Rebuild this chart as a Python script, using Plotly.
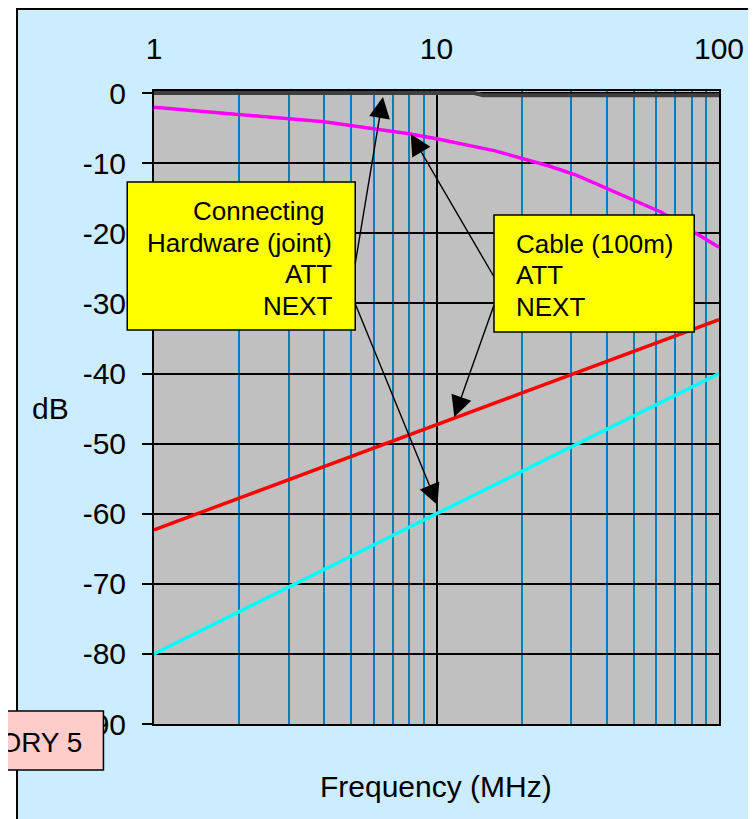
import plotly.graph_objects as go

# ---- data ----
freq = [1, 4, 8, 10, 16, 20, 25, 31.25, 62.5, 100]
cable_att = [-2.0, -4.1, -5.8, -6.5, -8.2, -9.3, -10.4, -11.7, -17.0, -22.0]
cable_next = [-62.3, -53.3, -48.8, -47.3, -44.3, -42.8, -41.3, -39.9, -35.4, -32.3]
hw_next = [-80.0, -68.0, -62.0, -60.0, -55.9, -54.0, -52.0, -50.1, -44.1, -40.0]
hw_att_freq = [1, 10, 13.6, 14.6, 100]
hw_att = [0.0, 0.0, 0.0, -0.3, -0.3]

x_tickvals = [1, 10, 100]
x_ticktext = ["1", "10", "100"]
x_minor = [2, 3, 4, 5, 6, 7, 8, 9, 20, 30, 40, 50, 60, 70, 80, 90]
y_tickvals = [0, -10, -20, -30, -40, -50, -60, -70, -80, -90]
y_ticktext = ["0", "-10", "-20", "-30", "-40", "-50", "-60", "-70", "-80", "-90"]

OFF = 8                      # page body margin
W, H = 748, 811
L, R, T, B = 146, 32, 83, 95
PW, PH = W - L - R, H - T - B
FONT = "Liberation Sans, Arial, sans-serif"


def px(xp):
    return (xp - OFF - L) / PW


def py(yp):
    return (H - B - (yp - OFF)) / PH


fig = go.Figure()
fig.add_trace(go.Scatter(x=freq, y=cable_att, mode="lines",
                         line=dict(color="#FF00FF", width=3.5), name="Cable ATT"))
fig.add_trace(go.Scatter(x=freq, y=cable_next, mode="lines",
                         line=dict(color="#FF0000", width=3.5), name="Cable NEXT"))
fig.add_trace(go.Scatter(x=freq, y=hw_next, mode="lines",
                         line=dict(color="#00FFFF", width=3.5), name="Hardware NEXT"))
fig.add_trace(go.Scatter(x=hw_att_freq, y=hw_att, mode="lines",
                         line=dict(color="#404040", width=4), name="Hardware ATT"))

shapes = []
# white margin on the left, frame lines
shapes.append(dict(type="rect", xref="paper", yref="paper", layer="below",
                   x0=px(-20), x1=px(15), y0=py(900), y1=py(-20),
                   fillcolor="white", line=dict(width=0)))
shapes.append(dict(type="line", xref="paper", yref="paper", layer="below",
                   x0=px(15.8), x1=px(15.8), y0=py(8), y1=py(900),
                   line=dict(color="black", width=2)))
shapes.append(dict(type="line", xref="paper", yref="paper", layer="below",
                   x0=px(15), x1=px(900), y0=py(9), y1=py(9),
                   line=dict(color="black", width=2)))
# yellow text boxes
shapes.append(dict(type="rect", xref="paper", yref="paper", layer="above",
                   x0=px(127), x1=px(357), y0=py(330), y1=py(182),
                   fillcolor="#FFFF00", line=dict(color="black", width=1.5)))
shapes.append(dict(type="rect", xref="paper", yref="paper", layer="above",
                   x0=px(497), x1=px(699), y0=py(332), y1=py(215),
                   fillcolor="#FFFF00", line=dict(color="black", width=1.5)))
# pink box
shapes.append(dict(type="rect", xref="paper", yref="paper", layer="above",
                   x0=px(-20), x1=px(103), y0=py(770), y1=py(711),
                   fillcolor="#FFCCCC", line=dict(color="black", width=1.5)))

ann = []


def text(t, x, y, size, xanchor="center"):
    ann.append(dict(text=t, xref="paper", yref="paper", x=px(x), y=py(y),
                    xanchor=xanchor, yanchor="middle", showarrow=False,
                    font=dict(family=FONT, size=size, color="black")))


text("Connecting", 329, 211, 26, "right")
text("Hardware (joint)", 336, 243, 26, "right")
text("ATT", 336, 274, 26, "right")
text("NEXT", 336, 306, 26, "right")
text("Cable (100m)", 517, 244, 26, "left")
text("ATT", 517, 275, 26, "left")
text("NEXT", 517, 307, 26, "left")
text("dB", 50, 408, 30)
text("Frequency (MHz)", 438, 786, 30)
text("CATEGORY 5", 83, 742, 28, "right")


def arrow(tip, tail):
    ann.append(dict(text="", xref="paper", yref="paper", x=px(tip[0]), y=py(tip[1]),
                    ax=tail[0] - tip[0], ay=tail[1] - tip[1], axref="pixel", ayref="pixel",
                    showarrow=True, arrowhead=2, arrowsize=3, arrowwidth=1.4,
                    arrowcolor="black", standoff=0, startstandoff=0))


arrow((385, 97), (357, 265))
arrow((440, 505), (357, 302))
arrow((413, 134), (497, 278))
arrow((457, 417), (497, 304))

fig.update_layout(
    width=W, height=H,
    margin=dict(l=L, r=R, t=T, b=B, pad=0),
    paper_bgcolor="#CCECFF",
    plot_bgcolor="#C0C0C0",
    showlegend=False,
    font=dict(family=FONT, size=30, color="black"),
    shapes=shapes,
    annotations=ann,
    xaxis=dict(type="log", range=[0, 2], side="top",
               tickvals=x_tickvals, ticktext=x_ticktext, ticks="",
               ticklabelstandoff=18,
               showgrid=True, gridcolor="black", gridwidth=1.5,
               minor=dict(tickmode="array", tickvals=x_minor, showgrid=True,
                          gridcolor="#0080C0", gridwidth=1.5, ticks=""),
               showline=True, mirror=True, linecolor="black", linewidth=2,
               zeroline=False, tickfont=dict(size=30)),
    yaxis=dict(range=[-90, 0.3], tickvals=y_tickvals, ticktext=y_ticktext,
               ticks="outside", ticklen=10, tickwidth=1.5, tickcolor="black",
               ticklabelstandoff=10,
               showgrid=True, gridcolor="black", gridwidth=1.5,
               showline=True, mirror=True, linecolor="black", linewidth=2,
               zeroline=False, tickfont=dict(size=30)),
)

fig.write_html("out.html")
